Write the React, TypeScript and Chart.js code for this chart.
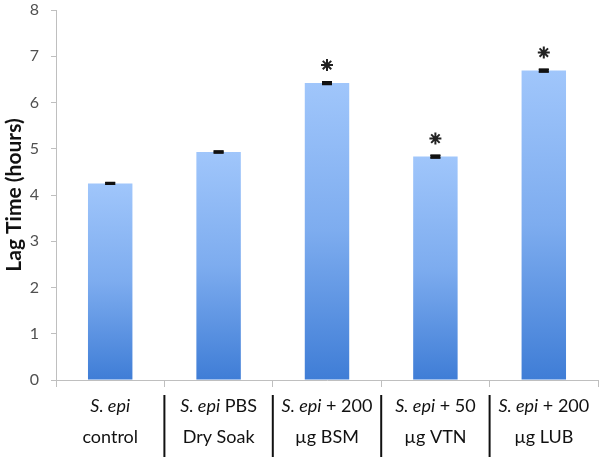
import React, { useEffect, useRef } from "react";
import { Chart, registerables } from "chart.js";

Chart.register(...registerables);

const categories = ["c1", "c2", "c3", "c4", "c5"];
const labelLine1: { text: string; italic: boolean }[][] = [
  [{ text: "S. epi", italic: true }],
  [{ text: "S. epi", italic: true }, { text: " PBS", italic: false }],
  [{ text: "S. epi", italic: true }, { text: " + 200", italic: false }],
  [{ text: "S. epi", italic: true }, { text: " + 50", italic: false }],
  [{ text: "S. epi", italic: true }, { text: " + 200", italic: false }],
];
const labelLine2 = ["control", "Dry Soak", "µg BSM", "µg VTN", "µg LUB"];
const lagTime = [4.25, 4.93, 6.42, 4.83, 6.69];
const errors = [0.02, 0.02, 0.03, 0.03, 0.03];
const significant = [false, false, true, true, true];
const yTicks = [0, 1, 2, 3, 4, 5, 6, 7, 8];

const FONT = "Lato, 'Open Sans', sans-serif";
const LABEL_SIZE = 18;

const overlay = {
  id: "overlay",
  afterDatasetsDraw(chart: any) {
    const ctx = chart.ctx;
    const x = chart.scales.x;
    const y = chart.scales.y;
    const meta = chart.getDatasetMeta(0);
    ctx.save();
    // error bars
    ctx.strokeStyle = "#111";
    meta.data.forEach((bar: any, i: number) => {
      const cx = bar.x;
      const yTop = y.getPixelForValue(lagTime[i] + errors[i]);
      const yBot = y.getPixelForValue(lagTime[i] - errors[i]);
      ctx.lineWidth = 1.5;
      ctx.beginPath();
      ctx.moveTo(cx, yTop);
      ctx.lineTo(cx, yBot);
      ctx.moveTo(cx - 5, yTop);
      ctx.lineTo(cx + 5, yTop);
      ctx.moveTo(cx - 5, yBot);
      ctx.lineTo(cx + 5, yBot);
      ctx.stroke();
      ctx.fillStyle = "#111";
      ctx.fillRect(cx - 5, yTop - 0.5, 10, yBot - yTop + 1);
      if (significant[i]) {
        const ay = y.getPixelForValue(lagTime[i]) - 18;
        ctx.lineWidth = 2;
        ctx.strokeStyle = "#222";
        const r = 6;
        ctx.beginPath();
        for (let k = 0; k < 4; k++) {
          const a = (Math.PI / 4) * k;
          ctx.moveTo(cx - r * Math.cos(a), ay - r * Math.sin(a));
          ctx.lineTo(cx + r * Math.cos(a), ay + r * Math.sin(a));
        }
        ctx.stroke();
        ctx.strokeStyle = "#111";
      }
    });
    // category labels
    const n = categories.length;
    ctx.fillStyle = "#111";
    ctx.textBaseline = "middle";
    for (let i = 0; i < n; i++) {
      const cx = x.getPixelForValue(i);
      const segs = labelLine1[i];
      let total = 0;
      const widths = segs.map((s) => {
        ctx.font = `${s.italic ? "italic " : ""}${LABEL_SIZE}px ${FONT}`;
        const w = ctx.measureText(s.text).width;
        total += w;
        return w;
      });
      let sx = cx - total / 2;
      ctx.textAlign = "left";
      segs.forEach((s, k) => {
        ctx.font = `${s.italic ? "italic " : ""}${LABEL_SIZE}px ${FONT}`;
        ctx.fillText(s.text, sx, 406);
        sx += widths[k];
      });
      ctx.textAlign = "center";
      ctx.font = `${LABEL_SIZE}px ${FONT}`;
      ctx.fillText(labelLine2[i], cx, 437);
    }
    // separators
    ctx.strokeStyle = "#111";
    ctx.lineWidth = 2;
    for (let i = 0; i < n - 1; i++) {
      const bx = (x.getPixelForValue(i) + x.getPixelForValue(i + 1)) / 2;
      ctx.beginPath();
      ctx.moveTo(bx, 395);
      ctx.lineTo(bx, 457);
      ctx.stroke();
    }
    ctx.restore();
  },
};

export default function App() {
  const ref = useRef<HTMLCanvasElement>(null);
  useEffect(() => {
    document.body.style.margin = "0";
    const chart = new Chart(ref.current!, {
      type: "bar",
      data: {
        labels: categories,
        datasets: [
          {
            data: lagTime,
            backgroundColor: (c: any) => {
              const ch = c.chart;
              if (!ch.chartArea || c.raw == null) return "#6fa0ea";
              const ys = ch.scales.y;
              const top = ys.getPixelForValue(c.raw);
              const bot = ys.getPixelForValue(0);
              if (!isFinite(top) || !isFinite(bot) || bot <= top) return "#6fa0ea";
              const g = ch.ctx.createLinearGradient(0, top, 0, bot);
              g.addColorStop(0, "#a0c6fb");
              g.addColorStop(0.5, "#7dacef");
              g.addColorStop(1, "#3f7dd6");
              return g;
            },
            borderWidth: 0,
            barPercentage: 0.82,
            categoryPercentage: 0.5,
          },
        ],
      },
      options: {
        animation: false,
        responsive: false,
        layout: { padding: { top: 10, right: 2, left: 0, bottom: 0 } },
        plugins: { legend: { display: false }, tooltip: { enabled: false } },
        scales: {
          x: {
            type: "category",
            offset: true,
            ticks: { display: false },
            grid: {
              display: true,
              offset: true,
              drawOnChartArea: false,
              drawTicks: true,
              tickLength: 7,
              color: "#bfbfbf",
            },
            border: { display: true, color: "#bfbfbf" },
            afterFit: (s: any) => {
              s.height = 77;
            },
          },
          y: {
            min: 0,
            max: 8,
            afterBuildTicks: (s: any) => {
              s.ticks = yTicks.map((v) => ({ value: v }));
            },
            ticks: {
              font: { family: FONT, size: 16 },
              color: "#505050",
              padding: 12,
            },
            grid: {
              display: true,
              drawOnChartArea: false,
              drawTicks: true,
              tickLength: 5,
              color: "#bfbfbf",
            },
            border: { display: true, color: "#bfbfbf" },
            title: {
              display: true,
              text: "Lag Time (hours)",
              font: { family: FONT, size: 21, weight: "bold" },
              color: "#111",
              padding: { top: 2, bottom: 0 },
            },
            afterFit: (s: any) => {
              s.width = 56;
              s.paddingTop = 0;
            },
          },
        },
      },
      plugins: [overlay],
    });
    return () => chart.destroy();
  }, []);
  return (
    <div style={{ position: "fixed", left: 0, top: 0, width: 600, height: 457 }}>
      <canvas ref={ref} width={600} height={457} />
    </div>
  );
}
